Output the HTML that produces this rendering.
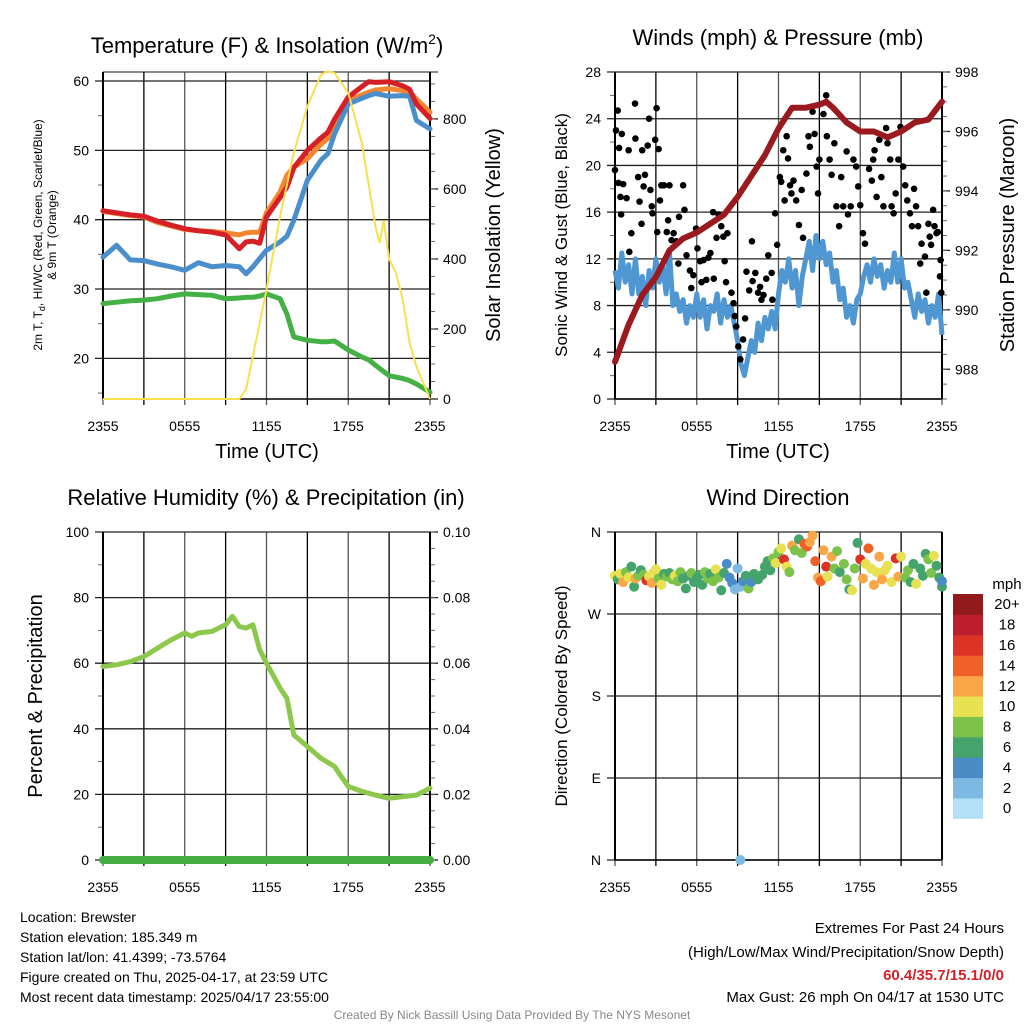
<!DOCTYPE html>
<html><head><meta charset="utf-8"><style>
body{margin:0;background:#fff}
svg{display:block;font-family:"Liberation Sans",Arial,sans-serif}
</style></head><body>
<svg id="chart" width="1024" height="1024" viewBox="0 0 1024 1024"></svg>
<script>
// ---------- DATA ----------
const tempHours = [0,1,2,3,4,5,6,7,8,9,10,10.5,11,11.5,12,13,13.5,14,15,16,16.5,17,18,19,19.5,20,21,22,22.5,23,24];
const tempRed   = [41.3,41,40.7,40.5,39.8,39.2,38.7,38.4,38.2,37.8,35.8,36.8,36.9,36.6,40.4,43.2,44.7,47.5,50,51.8,52.6,54.5,57.7,59.2,59.9,59.8,59.9,59.3,58.8,56.7,54.6];
const tempOrange= [41.2,40.9,40.6,40.4,39.6,39.1,38.6,38.4,38.3,38.1,37.8,38.1,38.2,38.2,41,44,46.4,47.6,48.8,50.9,51.7,54,57.2,58,58.4,58.7,58.9,58.6,58.4,57.4,55.5];
const tempBlue  = [34.6,36.3,34.2,34.1,33.6,33.2,32.7,33.8,33.2,33.4,33.2,32.2,33.2,34.4,35.6,36.8,37.6,39.9,45.7,48.6,49.5,52.4,56.7,57.5,57.9,58.2,57.8,57.9,57.8,54.3,53.1];
const tempGreen = [27.9,28.1,28.3,28.4,28.6,29,29.3,29.2,29.1,28.6,28.7,28.8,28.8,29,29.3,28.6,26.4,23.1,22.6,22.4,22.4,22.5,21.2,20.2,19.8,19,17.5,17.1,16.8,16.3,15.1];
const solarHours = [0,10,10.5,11,12,13,14,15,16,16.5,17,18,19,20,20.3,20.6,21,21.5,22,22.5,23,24];
const solarVals  = [0,0,27,122,312,522,703,836,927,936,931,874,731,493,446,510,400,360,284,160,93,0];

const pressHours = [0,1,2,3,4,5,6,7,8,9,10,11,12,13,14,15,15.5,16,17,18,19,20,21,22,23,24];
const pressVals  = [988.25,989.5,990.5,991.1,992,992.4,992.6,992.9,993.2,993.8,994.5,995.2,996.1,996.8,996.8,996.9,997,996.8,996.3,996,996,995.8,996,996.3,996.4,997];
const windVals = [11,9.5,12.5,10, 11.5,9,12,9, 10.5,8,11,9.5, 12,10,11.5,9, 12.5,8,9,7.5, 8.5,6.5,8,7, 9,7,8.5,6, 8,7.5,9,6.5, 8.5,7,8,6.5, 5,3,2,3.5, 5,4,6.5,5, 7,6,7.5,6, 9,11,10,12, 9.5,11,8,10.5, 12,13.5,11,14, 12,13.5,11.5,12.5, 10,11,8.5,9.5, 7,8,6.5,8.5, 9,10.5,11.5,10, 12,10.5,11.5,9.5, 11,10,12.5,10, 12,9.5,10,8.5, 7,9,7.5,8.5, 6.5,8,7,9, 5.5];
const gustTimes = [0,0.07,0.2,0.3,0.25,0.4,0.5,0.6,0.85,0.45,1,1.05,1.2,1.47,1.5,1.7,1.8,1.95,2.1,2.0,2.2,2.4,2.5,2.6,2.7,2.75,2.95,3.05,3.2,3.1,3.3,3.4,3.6,3.8,3.9,4.0,4.15,4.3,4.5,4.65,4.7,5.0,5.1,5.25,5.5,5.6,5.75,5.95,6.05,6.25,6.35,6.5,6.7,6.85,7.0,7.2,7.25,7.45,7.6,7.8,7.95,8.05,8.15,8.25,8.55,8.7,8.8,8.9,9.05,9.2,9.4,9.55,9.65,9.85,10.05,10.1,10.3,10.5,10.65,10.75,10.9,11.1,11.25,11.5,11.55,11.75,11.9,12.1,12.2,12.35,12.45,12.6,12.7,12.85,12.95,13.1,13.3,13.5,13.7,13.8,14.05,14.2,14.3,14.5,14.65,14.8,14.9,15.0,15.3,15.5,15.55,15.75,15.9,16.1,16.25,16.45,16.6,16.75,17,17.1,17.3,17.5,17.7,17.85,18,18.2,18.35,18.65,18.85,18.95,19.05,19.2,19.4,19.55,19.7,19.9,20.0,20.2,20.3,20.45,20.6,20.8,20.95,21.15,21.3,21.45,21.65,21.8,21.95,22.1,22.25,22.4,22.5,22.75,22.85,23,23.1,23.2,23.35,23.45,23.6,23.7,23.85,23.95,23.9];
const gustVals  = [19.6,23,24.7,21.5,18.5,17.3,22.7,18.4,17.2,15.8,21.3,12.6,14.2,25.3,22.3,19,16.9,15,18.2,21.3,19.2,21.7,24,17.9,16.5,15.9,22.2,24.9,21.4,14.3,17,18.3,18.3,14.3,15.3,18.3,13.6,14.2,13.5,11.6,15.6,18.3,16.2,12.3,11,9.5,10.6,14.6,12.9,11.8,10,11.9,10.2,12.1,12.5,16,10.3,13.8,15.8,14.8,13.9,11.8,10,14.2,9.1,8.2,7.1,6.2,4.5,3.4,5.1,6.9,10.9,9.3,13.5,10.1,10.8,9.1,9.6,8.5,8.9,10.3,12.3,10.8,8.5,15.9,13.2,19,18.6,21.3,17,22.5,20.6,18.3,17.6,18.7,17,14.9,17.9,13.8,19.3,22.5,21.6,24.6,22.7,19.9,17.6,20.5,24.4,26,22.5,20.5,19.2,21.9,16.5,14.8,19,16.5,21.2,15.8,16.5,20.5,19.9,18.2,16.6,14.2,13.3,19.7,18.7,20.5,21.3,17.3,22.2,19,16.5,23.2,21.9,20.5,16.5,15.9,17.6,20.5,23.3,19.9,18.3,17,15.9,14.8,18,16.5,14.8,11.6,13.3,12.2,9.1,15,13.9,13.2,16.2,14.8,14.2,14.3,10.5,9.1,11.9];

const rhHours = [0,1,2,3,4,5,6,6.5,7,8,9,9.5,10,10.5,11,11.5,12,13,13.5,14,15,16,17,17.5,18,19,20,21,22,23,24];
const rhVals  = [59,59.5,60.5,62,64.6,67.1,69.2,68.2,69.2,69.7,71.7,74.3,71.2,70.7,71.7,64.1,60,52.4,49.3,38.1,34.6,31,28.5,25.4,22.4,20.9,19.8,18.8,19.3,19.8,21.9];
const precipHours = [0,24];
const precipVals  = [0,0];

const dirTimes = [0,0.2,0.4,0.6,0.8,1,1.2,1.4,1.5,1.7,1.9,2.1,2.3,2.5,2.7,2.8,3,3.2,3.4,3.6,3.8,4,4.2,4.4,4.6,4.8,5,5.2,5.4,5.6,5.8,6,6.2,6.4,6.6,6.8,7,7.2,7.4,7.6,7.8,8,8.2,8.4,8.6,8.8,9,9.2,9.4,9.6,9.8,10,10.2,10.5,10.8,11,11.2,11.4,11.6,11.8,12,12.2,12.4,12.6,12.8,13,13.2,13.5,13.7,13.9,14.1,14.3,14.5,14.7,14.9,15.1,15.3,15.5,15.6,15.9,16.1,16.3,16.5,16.8,17,17.2,17.4,17.6,17.8,18,18.2,18.4,18.6,18.8,19,19.2,19.4,19.6,19.8,20,20.3,20.6,20.8,21,21.3,21.5,21.7,21.9,22.1,22.4,22.6,22.8,23,23.2,23.4,23.6,23.8,24,24,9.2];
const dirVals  = [312,308,314,305,316,310,322,300,309,312,318,313,307,311,304,315,319,309,302,314,311,315,308,312,306,316,309,298,312,315,305,309,313,302,316,309,314,306,319,310,296,315,325,310,304,297,320,300,306,312,298,305,314,308,313,322,328,318,331,326,338,342,330,322,316,345,340,352,337,347,344,349,356,328,310,306,340,322,311,333,320,339,316,325,308,297,296,320,348,330,309,325,342,320,302,316,333,308,318,323,305,331,311,333,310,318,305,325,303,320,312,336,330,315,334,323,310,300,306,0];
const dirSpeeds= [11,7,10,12,9,10,6,6,12,8,7,9,16,10,12,11,10,8,10,7,8,6,8,10,8,9,6,6,7,8,6,7,7,6,8,8,7,8,10,8,6,7,4,4,4,3,2,2,4,6,8,4,6,6,6,6,6,7,8,10,8,10,16,10,8,12,8,6,8,15,14,12,12,14,12,14,12,16,10,12,8,8,6,8,8,6,10,8,6,16,12,10,14,10,12,10,12,12,10,10,10,16,12,10,8,8,7,6,10,6,7,6,8,8,10,6,6,6,4,2];

const legendLabels = ["0","2","4","6","8","10","12","14","16","18","20+"];
const speedColors = ["#b3e0f7","#7eb9e3","#4a8cc6","#45a46c","#7dc24b","#e8e152","#f8a647","#f06127","#dd3327","#bd1e2d","#921a1d"];

const timeTickLabels = ["2355","0555","1155","1755","2355"];

// ---------- HELPERS ----------
const NS="http://www.w3.org/2000/svg";
const svg=document.getElementById('chart');
function mk(tag,attrs,parent){const e=document.createElementNS(NS,tag);for(const k in attrs)e.setAttribute(k,attrs[k]);(parent||svg).appendChild(e);return e;}
function txt(s,x,y,size,anchor,parent,extra){const t=mk('text',Object.assign({x:x,y:y,'font-size':size,'text-anchor':anchor||'middle',fill:'#000'},extra||{}),parent);t.textContent=s;return t;}
function lin(d0,d1,r0,r1){return v=>r0+(v-d0)/(d1-d0)*(r1-r0);}
function pathFrom(xs,ys,fx,fy){return xs.map((v,i)=>(i?'L':'M')+fx(v).toFixed(1)+' '+fy(ys[i]).toFixed(1)).join('');}

function frame(g,x0,x1,yT,yB,leftTicks,fyL,leftLabels,rightTicks,fyR,rightLabels,leftMinor,rightMinor){
  const fx=lin(0,24,x0,x1);
  for(let h=0;h<=24;h+=3){
    const l=mk('line',{x1:fx(h),x2:fx(h),y1:yT,y2:yB+6,stroke:(h%6==3)?'#000':'#555','stroke-width':1.3},g);
    
    
  }
  for(let i=0;i<5;i++){
    const t=txt(timeTickLabels[i],fx(i*6),yB+32,14,'middle',g);
    
    
  }
  leftTicks.forEach((v,i)=>{
    const y=fyL(v);
    const l=mk('line',{x1:x0-8,x2:x1,y1:y,y2:y,stroke:'#222','stroke-width':1.3},g);
    
    
    const t=txt(leftLabels[i],x0-14,y+5,14,'end',g);
    
    
  });
  leftMinor.forEach(v=>{const y=fyL(v);mk('line',{x1:x0-5,x2:x0,y1:y,y2:y,stroke:'#666','stroke-width':1},g);});
  if(rightTicks){
    rightTicks.forEach((v,i)=>{
      const y=fyR(v);
      mk('line',{x1:x1,x2:x1+8,y1:y,y2:y,stroke:'#222','stroke-width':1.3},g);
      const t=txt(rightLabels[i],x1+13,y+5,14,'start',g);
      
      
    });
    rightMinor.forEach(v=>{const y=fyR(v);mk('line',{x1:x1,x2:x1+5,y1:y,y2:y,stroke:'#666','stroke-width':1},g);});
  }
  mk('line',{x1:x0,x2:x0,y1:yT,y2:yB,stroke:'#000','stroke-width':2},g);
  mk('line',{x1:x1,x2:x1,y1:yT,y2:yB,stroke:'#000','stroke-width':2},g);
  mk('line',{x1:x0,x2:x1,y1:yB,y2:yB,stroke:'#000','stroke-width':1.5},g);
  return fx;
}
function range(a,b,s){const r=[];for(let v=a;v<=b+1e-9;v+=s)r.push(+v.toFixed(3));return r;}

// ---------- PANEL 1 ----------
const g1=mk('g',{});


{
  const x0=103,x1=430,yT=72,yB=399;
  const fy=lin(14.14,61.3,yB,yT), fr=lin(0,934,yB,yT);
  mk('line',{x1:x0,x2:x1+8,y1:yT,y2:yT,stroke:'#444','stroke-width':1.3},g1);
  const fx=frame(g1,x0,x1,yT,yB,[20,30,40,50,60],fy,["20","30","40","50","60"],[0,200,400,600,800],fr,["0","200","400","600","800"],[15,25,35,45,55],range(50,900,50));
  const series=[[tempGreen,'#45b045','dewpoint-line'],[tempOrange,'#f4862f','temp-9m-line'],[tempBlue,'#4a8fcb','heat-index-windchill-line'],[tempRed,'#d62027','temp-2m-line']];
  series.forEach(s=>{
    const p=mk('path',{d:pathFrom(tempHours,s[0],fx,fy),fill:'none',stroke:s[1],'stroke-width':5,'stroke-linejoin':'round','stroke-linecap':'round'},g1);
    
    
  });
  const ps=mk('path',{d:pathFrom(solarHours,solarVals,fx,fr),fill:'none',stroke:'#f7e04f','stroke-width':2},g1);
  
  
  const t=mk('text',{x:267,y:53,'font-size':22,'text-anchor':'middle'},g1);
  t.innerHTML='Temperature (F) &amp; Insolation (W/m<tspan dy="-9" font-size="14">2</tspan><tspan dy="9">)</tspan>';
  
  
  const xt=txt('Time (UTC)',267,458,20,'middle',g1);
  
  
  const yl=mk('text',{transform:'translate(42,235) rotate(-90)','font-size':12,'text-anchor':'middle'},g1);
  yl.innerHTML='2m T, T<tspan dy="3" font-size="9">d</tspan><tspan dy="-3">, HI/WC (Red, Green, Scarlet/Blue)</tspan>';
  
  
  const yl2=mk('text',{transform:'translate(56,235) rotate(-90)','font-size':12,'text-anchor':'middle'},g1);
  yl2.textContent='& 9m T (Orange)';
  
  
  const yr=mk('text',{transform:'translate(500,235) rotate(-90)','font-size':20,'text-anchor':'middle'},g1);
  yr.textContent='Solar Insolation (Yellow)';
  
  
}

// ---------- PANEL 2 ----------
const g2=mk('g',{});


{
  const x0=615,x1=942,yT=72,yB=399;
  const fy=lin(0,28,yB,yT), fp=lin(987,998,yB,yT);
  const fx=frame(g2,x0,x1,yT,yB,[0,4,8,12,16,20,24,28],fy,["0","4","8","12","16","20","24","28"],[988,990,992,994,996,998],fp,["988","990","992","994","996","998"],[2,6,10,14,18,22,26],range(987,998,0.5));
  const wt=windVals.map((v,i)=>i*0.25);
  const pw=mk('path',{d:pathFrom(wt,windVals,fx,fy),fill:'none',stroke:'#4f97d2','stroke-width':5,'stroke-linejoin':'round'},g2);
  
  
  gustTimes.forEach((t,i)=>{
    const c=mk('circle',{cx:fx(t),cy:fy(gustVals[i]),r:3.3,fill:'#000'},g2);
    
    
  });
  const pp=mk('path',{d:pathFrom(pressHours,pressVals,fx,fp),fill:'none',stroke:'#9b1a1f','stroke-width':6,'stroke-linejoin':'round','stroke-linecap':'round'},g2);
  
  
  const t=txt('Winds (mph) & Pressure (mb)',778,45,22,'middle',g2);
  
  
  const xt=txt('Time (UTC)',778,458,20,'middle',g2);
  
  
  const yl=mk('text',{transform:'translate(567,235) rotate(-90)','font-size':17,'text-anchor':'middle'},g2);
  yl.textContent='Sonic Wind & Gust (Blue, Black)';
  
  
  const yr=mk('text',{transform:'translate(1014,235) rotate(-90)','font-size':20,'text-anchor':'middle'},g2);
  yr.textContent='Station Pressure (Maroon)';
  
  
}

// ---------- PANEL 3 ----------
const g3=mk('g',{});


{
  const x0=103,x1=430,yT=532,yB=860;
  const fy=lin(0,100,yB,yT), fr=lin(0,0.1,yB,yT);
  const fx=frame(g3,x0,x1,yT,yB,[0,20,40,60,80,100],fy,["0","20","40","60","80","100"],[0,0.02,0.04,0.06,0.08,0.1],fr,["0.00","0.02","0.04","0.06","0.08","0.10"],[10,30,50,70,90],range(0,0.1,0.005));
  const pr=mk('path',{d:pathFrom(rhHours,rhVals,fx,fy),fill:'none',stroke:'#8cc84b','stroke-width':5,'stroke-linejoin':'round','stroke-linecap':'round'},g3);
  
  
  const pp=mk('path',{d:pathFrom(precipHours,precipVals,fx,fr),fill:'none',stroke:'#44ad44','stroke-width':8,'stroke-linecap':'round'},g3);
  
  
  const t=txt('Relative Humidity (%) & Precipitation (in)',266,505,22,'middle',g3);
  
  
  const yl=mk('text',{transform:'translate(42,696) rotate(-90)','font-size':20,'text-anchor':'middle'},g3);
  yl.textContent='Percent & Precipitation';
  
  
}

// ---------- PANEL 4 ----------
const g4=mk('g',{});


{
  const x0=615,x1=942,yT=532,yB=860;
  const fy=lin(0,360,yB,yT);
  const fx=frame(g4,x0,x1,yT,yB,[0,90,180,270,360],fy,["N","E","S","W","N"],null,null,null,[],[]);
  dirTimes.forEach((t,i)=>{
    const s=dirSpeeds[i];
    const c=mk('circle',{cx:fx(t),cy:fy(dirVals[i]),r:5,fill:speedColors[Math.min(10,Math.floor(s/2))]},g4);
    
    
  });
  const t=txt('Wind Direction',778,505,22,'middle',g4);
  
  
  const yl=mk('text',{transform:'translate(567,696) rotate(-90)','font-size':17,'text-anchor':'middle'},g4);
  yl.textContent='Direction (Colored By Speed)';
  
  
  const lg=mk('g',{},g4);
  
  
  const mt=txt('mph',1007,589,15,'middle',lg);
  
  
  const rowH=20.4, top=594;
  legendLabels.forEach((lab,i)=>{
    const y=top+(10-i)*rowH;
    const r=mk('rect',{x:953,y:y,width:30,height:rowH+0.5,fill:speedColors[i]},lg);
    
    
    const tt=txt(lab,1007,y+rowH/2+5,15,'middle',lg);
    
    
  });
}

// ---------- FOOTER ----------
const info=["Location: Brewster","Station elevation: 185.349 m","Station lat/lon: 41.4399; -73.5764","Figure created on Thu, 2025-04-17, at 23:59 UTC","Most recent data timestamp: 2025/04/17 23:55:00"];
info.forEach((s,i)=>{
  const t=txt(s,20,922+i*20,14,'start');
  
  
});
const e1=txt('Extremes For Past 24 Hours',1004,933,15,'end');


const e2=txt('(High/Low/Max Wind/Precipitation/Snow Depth)',1004,957,15,'end');


const e3=txt('60.4/35.7/15.1/0/0',1004,980,15,'end',null,{fill:'#d62027','font-weight':'bold'});


const e4=txt('Max Gust: 26 mph On 04/17 at 1530 UTC',1004,1002,15,'end');


const cr=txt('Created By Nick Bassill Using Data Provided By The NYS Mesonet',512,1019,12,'middle',null,{fill:'#888'});


</script>
</body></html>
